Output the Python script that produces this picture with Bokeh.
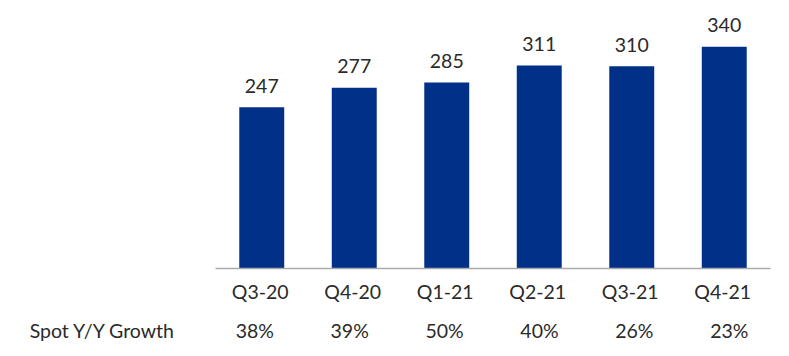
from bokeh.plotting import figure
from bokeh.models import FactorRange, Range1d, ColumnDataSource, FixedTicker
from bokeh.core.properties import value
from bokeh.embed import file_html
from bokeh.resources import INLINE

quarters = ["Q3-20", "Q4-20", "Q1-21", "Q2-21", "Q3-21", "Q4-21"]
spot_values = [247, 277, 285, 311, 310, 340]
growth_labels = ["38%", "39%", "50%", "40%", "26%", "23%"]
row_title = "Spot Y/Y Growth"

FONT = "Lato"
TEXT_COLOR = "#2a2a2a"
BAR_COLOR = "#003087"

# pixel geometry: zero line at 268 px from top, 0.6525 px per unit
px_per_unit = 0.6525
H = 356
zero_px = 268
y_end = zero_px / px_per_unit
y_start = -(H - zero_px) / px_per_unit
row_offset_px = 61.5
row_y = -row_offset_px / px_per_unit

p = figure(width=789, height=356, output_backend="svg", toolbar_location=None,
           x_range=FactorRange(factors=quarters, range_padding=0),
           y_range=Range1d(y_start, y_end),
           min_border_left=215, min_border_right=19, min_border_top=0, min_border_bottom=0)
p.xaxis.visible = False
p.xgrid.visible = False
p.ygrid.visible = False
p.outline_line_color = None
p.background_fill_color = "white"
p.border_fill_color = "white"

# left axis used only to carry the row title
ya = p.yaxis[0]
ya.ticker = FixedTicker(ticks=[row_y])
ya.major_label_overrides = {row_y: row_title}
ya.axis_line_color = None
ya.major_tick_line_color = None
ya.minor_tick_line_color = None
ya.major_tick_out = 0
ya.major_tick_in = 0
ya.major_label_standoff = 40
ya.major_label_text_font = FONT
ya.major_label_text_font_size = "19.5px"
ya.major_label_text_color = TEXT_COLOR

src = ColumnDataSource(dict(
    x=quarters, top=spot_values,
    lbl=[str(v) for v in spot_values],
    pct=growth_labels,
    zero=[0] * len(quarters),
    pct_off=[-7 + 2.4 * i for i in range(len(quarters))],
))

p.vbar(x="x", top="top", bottom=0, width=0.486, source=src,
       fill_color=BAR_COLOR, line_color=None)

# baseline
p.segment(x0=[(quarters[0], -0.53)], y0=[0], x1=[(quarters[-1], 0.53)], y1=[0],
          line_color="#aaaaaa", line_width=1.5)

# value labels
p.text(x="x", y="top", text="lbl", source=src, text_align="center",
       text_baseline="middle", y_offset=-21.5, text_font=value(FONT),
       text_font_size="19.5px", text_color=TEXT_COLOR)

# category labels
p.text(x="x", y="zero", text="x", source=src, text_align="center",
       text_baseline="middle", y_offset=23, x_offset=-1.5, text_font=value(FONT),
       text_font_size="19.5px", text_color=TEXT_COLOR)

# growth row
p.text(x="x", y="zero", text="pct", source=src, text_align="center",
       text_baseline="middle", y_offset=row_offset_px, x_offset="pct_off", text_font=value(FONT),
       text_font_size="19.5px", text_color=TEXT_COLOR)

open("out.html", "w").write(file_html(p, INLINE))
